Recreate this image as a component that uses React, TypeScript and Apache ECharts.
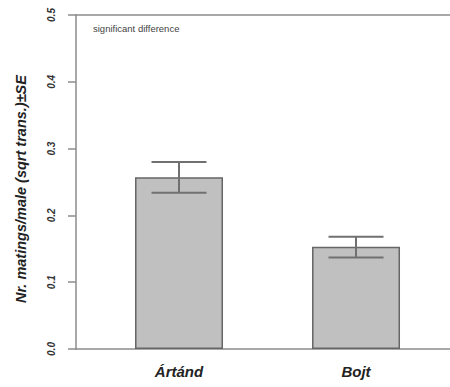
import React, { useEffect, useRef } from "react";
import * as echarts from "echarts";

const categories = ["Ártánd", "Bojt"];
const means = [0.257, 0.153];
const upper = [0.28, 0.168];
const lower = [0.234, 0.137];
const yTicks = [0, 0.1, 0.2, 0.3, 0.4, 0.5];

export default function App() {
  const ref = useRef<HTMLDivElement>(null);
  useEffect(() => {
    if (!ref.current) return;
    const chart = echarts.init(ref.current, null, { renderer: "svg" });
    const axisColor = "#8c8c8c";
    const font = "Liberation Sans, Arial, sans-serif";
    chart.setOption({
      animation: false,
      backgroundColor: "#ffffff",
      grid: { left: 76, right: 0, top: 15, bottom: 38 },
      graphic: [
        {
          type: "text",
          left: 93,
          top: 23,
          style: { text: "significant difference", fontSize: 9.5, fill: "#444", fontFamily: font },
        },
      ],
      xAxis: [
        {
          type: "value",
          min: 0.418,
          max: 2.531,
          position: "bottom",
          axisLine: { show: true, onZero: false, lineStyle: { color: axisColor, width: 1.5 } },
          axisTick: { show: false },
          splitLine: { show: false },
          axisLabel: {
            customValues: categories.map((_, i) => i + 1),
            formatter: (v: number) => categories[Math.round(v) - 1] ?? "",
            fontSize: 15,
            fontWeight: "bold",
            fontStyle: "italic",
            color: "#222",
            fontFamily: font,
            margin: 15,
          },
        },
        {
          type: "value",
          min: 0.418,
          max: 2.531,
          position: "top",
          axisLine: { show: true, onZero: false, lineStyle: { color: axisColor, width: 1.5 } },
          axisTick: { show: false },
          splitLine: { show: false },
          axisLabel: { show: false },
        },
      ],
      yAxis: {
        type: "value",
        min: 0,
        max: 0.5,
        interval: 0.1,
        name: "Nr. matings/male (sqrt trans.)±SE",
        nameLocation: "middle",
        nameRotate: 90,
        nameGap: 48,
        nameTextStyle: {
          fontSize: 14.5,
          fontWeight: "bold",
          fontStyle: "italic",
          color: "#222",
          fontFamily: font,
          padding: [0, 14, 0, 0],
        },
        axisLine: { show: true, lineStyle: { color: axisColor, width: 1.5 } },
        axisTick: { show: true, length: 8, lineStyle: { color: axisColor, width: 1.5 } },
        splitLine: { show: false },
        axisLabel: {
          rotate: 90,
          fontSize: 10,
          fontWeight: "bold",
          fontStyle: "italic",
          color: "#333",
          fontFamily: font,
          margin: 20,
          formatter: (v: number) => (yTicks.some((t) => Math.abs(t - v) < 1e-9) ? v.toFixed(1) : ""),
        },
      },
      series: [
        {
          type: "bar",
          data: means.map((m, i) => [i + 1, m]),
          barWidth: 88,
          itemStyle: { color: "#c0c0c0", borderColor: "#666666", borderWidth: 1.5 },
        },
        {
          type: "custom",
          data: means.map((_, i) => [i + 1, lower[i], upper[i]]),
          renderItem: (params: any, api: any) => {
            const x = api.value(0);
            const lo = api.coord([x, api.value(1)]);
            const hi = api.coord([x, api.value(2)]);
            const hw = 27.5;
            const style = { stroke: "#707070", lineWidth: 2 };
            return {
              type: "group",
              children: [
                { type: "line", shape: { x1: hi[0], y1: hi[1], x2: lo[0], y2: lo[1] }, style },
                { type: "line", shape: { x1: hi[0] - hw, y1: hi[1], x2: hi[0] + hw, y2: hi[1] }, style },
                { type: "line", shape: { x1: lo[0] - hw, y1: lo[1], x2: lo[0] + hw, y2: lo[1] }, style },
              ],
            };
          },
          z: 5,
        },
      ],
    });
    return () => chart.dispose();
  }, []);
  return <div ref={ref} style={{ width: 450, height: 387, position: "fixed", left: 0, top: 0 }} />;
}
